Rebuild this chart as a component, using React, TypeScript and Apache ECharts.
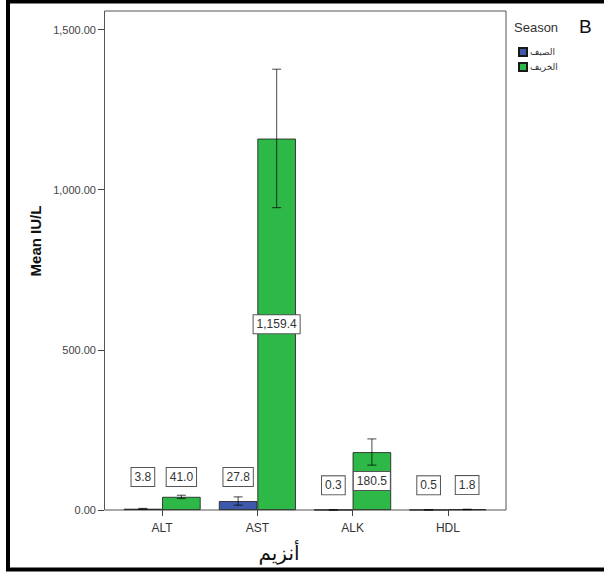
import React, { useEffect, useRef } from "react";
import * as echarts from "echarts";

const categories = ["ALT", "AST", "ALK", "HDL"];
const seasonNames = ["الصيف", "الخريف"];
const summerMeans = [3.8, 27.8, 0.3, 0.5];
const autumnMeans = [41.0, 1159.4, 180.5, 1.8];
const summerLow = [2.8, 15.0, 0.1, 0.3];
const summerHigh = [4.8, 41.0, 0.5, 0.7];
const autumnLow = [36.0, 944.0, 140.0, 1.2];
const autumnHigh = [46.0, 1376.0, 222.0, 2.4];
const yTicks = [0, 500, 1000, 1500];

const BLUE = "#3E58AC";
const GREEN = "#2EB848";
const BAR_W = 38.5;
const LABEL_LIFT = [24, 24, 16, 16];

function fmt1(v: number) {
  return v.toLocaleString("en-US", { minimumFractionDigits: 1, maximumFractionDigits: 1 });
}

function barData(values: number[]) {
  return values.map((v, i) => ({
    value: v,
    label:
      v > 150
        ? { position: "inside" }
        : { position: "insideBottom", distance: LABEL_LIFT[i] },
  }));
}

function errData(lo: number[], hi: number[]) {
  return lo.map((l, i) => [i, l, hi[i]]);
}

function errSeries(name: string, lo: number[], hi: number[], offset: number) {
  return {
    type: "custom",
    name: name + "-err",
    z: 5,
    silent: true,
    data: errData(lo, hi),
    renderItem: (params: any, api: any) => {
      const i = api.value(0);
      const p0 = api.coord([i, api.value(1)]);
      const p1 = api.coord([i, api.value(2)]);
      const cx = p0[0] + offset;
      const st = { stroke: "rgba(0,0,0,0.6)", lineWidth: 1.2 };
      return {
        type: "group",
        children: [
          { type: "line", shape: { x1: cx, y1: p0[1], x2: cx, y2: p1[1] }, style: st },
          { type: "line", shape: { x1: cx - 4.5, y1: p0[1], x2: cx + 4.5, y2: p0[1] }, style: st },
          { type: "line", shape: { x1: cx - 4.5, y1: p1[1], x2: cx + 4.5, y2: p1[1] }, style: st },
        ],
      };
    },
  };
}

const labelStyle = {
  show: true,
  formatter: (p: any) => fmt1(p.value),
  fontSize: 12,
  color: "#333",
  fontFamily: "Liberation Sans, Arial, sans-serif",
  backgroundColor: "#fff",
  borderColor: "#555",
  borderWidth: 1,
  padding: [3, 3, 3, 3],
};

export default function App() {
  const ref = useRef<HTMLDivElement>(null);
  useEffect(() => {
    if (!ref.current) return;
    const chart = echarts.init(ref.current, null, { renderer: "svg" });
    chart.setOption({
      animation: false,
      backgroundColor: "#fff",
      textStyle: { fontFamily: "Liberation Sans, Arial, DejaVu Sans, sans-serif" },
      grid: { left: 114.5, right: 108.5, top: 29.5, bottom: 64 },
      legend: {
        data: seasonNames.map((n) => ({ name: n, icon: "rect" })),
        orient: "vertical",
        left: 513,
        top: 42,
        itemWidth: 8,
        itemHeight: 8,
        itemGap: 5,
        selectedMode: false,
        textStyle: { fontSize: 9, color: "#333", fontFamily: "DejaVu Sans, sans-serif", padding: [0, 0, 0, -2] },
      },
      xAxis: {
        type: "category",
        data: categories,
        axisLine: { show: false },
        axisTick: { show: true, alignWithLabel: true, length: 6, lineStyle: { color: "#444" } },
        axisLabel: { fontSize: 12, color: "#333", margin: 12 },
      },
      yAxis: {
        type: "value",
        min: 0,
        max: 1500,
        interval: 500,
        offset: 10.5,
        axisLine: { show: false },
        axisTick: { show: true, length: 6, lineStyle: { color: "#444" } },
        splitLine: { show: false },
        axisLabel: {
          fontSize: 11,
          color: "#444",
          margin: 8,
          formatter: (v: number) =>
            yTicks.includes(v) ? v.toLocaleString("en-US", { minimumFractionDigits: 2 }) : "",
        },
      },
      graphic: [
        {
          type: "rect",
          z: -1,
          shape: { x: 104.5, y: 11, width: 401.5, height: 499 },
          style: { fill: "none", stroke: "#555", lineWidth: 1 },
        },
        {
          type: "rect",
          z: 100,
          shape: { x: 8, y: 1.5, width: 620, height: 568 },
          style: { fill: "none", stroke: "#000", lineWidth: 4 },
        },
        {
          type: "text",
          x: 35,
          y: 241,
          rotation: Math.PI / 2,
          style: {
            text: "Mean IU/L",
            fontSize: 15,
            fontWeight: "bold",
            fill: "#111",
            align: "center",
            verticalAlign: "middle",
            fontFamily: "Liberation Sans, Arial, sans-serif",
          },
        },
        {
          type: "text",
          x: 279,
          y: 553,
          style: {
            text: "أنزيم",
            fontSize: 20,
            fill: "#111",
            align: "center",
            verticalAlign: "middle",
            fontFamily: "DejaVu Sans, sans-serif",
          },
        },
        {
          type: "text",
          x: 514,
          y: 27,
          style: {
            text: "Season",
            fontSize: 13,
            fill: "#333",
            align: "left",
            verticalAlign: "middle",
            fontFamily: "Liberation Sans, Arial, sans-serif",
          },
        },
        {
          type: "text",
          x: 579,
          y: 26,
          style: {
            text: "B",
            fontSize: 19,
            fill: "#111",
            align: "left",
            verticalAlign: "middle",
            fontFamily: "Liberation Sans, Arial, sans-serif",
          },
        },
      ],
      series: [
        {
          type: "bar",
          name: seasonNames[0],
          data: barData(summerMeans),
          barWidth: BAR_W,
          barGap: "0%",
          itemStyle: { color: BLUE, borderColor: "#1a1a1a", borderWidth: 0.8 },
          label: labelStyle,
        },
        {
          type: "bar",
          name: seasonNames[1],
          data: barData(autumnMeans),
          barWidth: BAR_W,
          barGap: "0%",
          itemStyle: { color: GREEN, borderColor: "#1a1a1a", borderWidth: 0.8 },
          label: labelStyle,
        },
        errSeries("summer", summerLow, summerHigh, -BAR_W / 2),
        errSeries("autumn", autumnLow, autumnHigh, BAR_W / 2),
      ],
    });
    return () => chart.dispose();
  }, []);
  return (
    <div
      ref={ref}
      style={{ position: "fixed", left: 0, top: 0, width: 604, height: 574 }}
    />
  );
}
